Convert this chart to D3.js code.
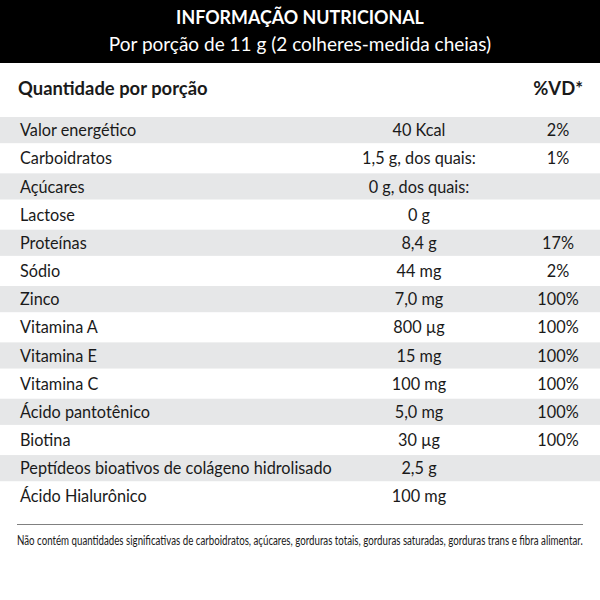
<!DOCTYPE html>
<html>
<head>
<meta charset="utf-8">
<script src="https://cdn.jsdelivr.net/npm/d3@7"></script>
<style>
  body { margin: 0; background: #fff; }
  text { font-family: Lato, "Open Sans", sans-serif; fill: #1a1a1a; }
</style>
</head>
<body>
<div id="chart"></div>
<script>
var title = "INFORMAÇÃO NUTRICIONAL";
var subtitle = "Por porção de 11 g (2 colheres-medida cheias)";
var colHeaders = ["Quantidade por porção", "%VD*"];
var nutrients = ["Valor energético", "Carboidratos", "Açúcares", "Lactose", "Proteínas",
    "Sódio", "Zinco", "Vitamina A", "Vitamina E", "Vitamina C", "Ácido pantotênico",
    "Biotina", "Peptídeos bioativos de colágeno hidrolisado", "Ácido Hialurônico"];
var amounts = ["40 Kcal", "1,5 g, dos quais:", "0 g, dos quais:", "0 g", "8,4 g",
    "44 mg", "7,0 mg", "800 µg", "15 mg", "100 mg", "5,0 mg", "30 µg", "2,5 g", "100 mg"];
var dailyValues = ["2%", "1%", "", "", "17%", "2%", "100%", "100%", "100%", "100%",
    "100%", "100%", "", ""];
var footnote = "Não contém quantidades significativas de carboidratos, açúcares, gorduras totais, gorduras saturadas, gorduras trans e fibra alimentar.";

var W = 600, H = 600;
var svg = d3.select("#chart").append("svg")
    .attr("width", W).attr("height", H);

// narrower text, closer to the condensed face of the original
function put(sel, x, yy, sx) {
    return sel.attr("transform", "translate(" + x + "," + yy + ") scale(" + sx + ",1)");
}

svg.append("rect").attr("x", 0).attr("y", 0).attr("width", W).attr("height", 63)
    .attr("fill", "#000");
put(svg.append("text"), 300, 24, 0.94).attr("text-anchor", "middle")
    .style("font-weight", "bold").style("font-size", "19px").style("fill", "#fff")
    .text(title);
put(svg.append("text"), 300, 51, 1.0).attr("text-anchor", "middle")
    .style("font-size", "19px").style("fill", "#fff")
    .text(subtitle);

put(svg.append("text"), 18, 95, 0.97)
    .style("font-weight", "bold").style("font-size", "19px")
    .text(colHeaders[0]);
put(svg.append("text"), 583, 95, 0.97).attr("text-anchor", "end")
    .style("font-weight", "bold").style("font-size", "19px")
    .text(colHeaders[1]);

var rows = d3.range(nutrients.length);
var y = d3.scaleBand().domain(rows).range([116, 510.4]);

var g = svg.append("g");
g.selectAll("rect.band")
    .data(rows.filter(function(i) { return i % 2 == 0; }))
    .enter().append("rect")
    .attr("class", "band")
    .attr("x", 0).attr("width", W)
    .attr("y", function(i) { return y(i) + 1; })
    .attr("height", y.bandwidth() - 2)
    .attr("fill", "#e6e7e8");

var row = g.selectAll("g.row").data(rows).enter().append("g")
    .attr("class", "row")
    .attr("transform", function(i) { return "translate(0," + (y(i) + y.bandwidth() / 2) + ")"; });

put(row.append("text"), 20, 0, 0.93).attr("dy", "0.35em")
    .style("font-size", "17.5px")
    .text(function(i) { return nutrients[i]; });
put(row.append("text"), 419, 0, 0.93).attr("dy", "0.35em").attr("text-anchor", "middle")
    .style("font-size", "17.5px")
    .text(function(i) { return amounts[i]; });
put(row.append("text"), 558, 0, 0.93).attr("dy", "0.35em").attr("text-anchor", "middle")
    .style("font-size", "17.5px")
    .text(function(i) { return dailyValues[i]; });

svg.append("line").attr("x1", 17).attr("x2", 583).attr("y1", 524.5).attr("y2", 524.5)
    .attr("stroke", "#808080").attr("stroke-width", 1);
var fn = svg.append("text")
    .style("font-size", "12.5px")
    .text(footnote);
var len = fn.node().getComputedTextLength();
put(fn, 17, 545, 566 / len);
</script>
</body>
</html>
